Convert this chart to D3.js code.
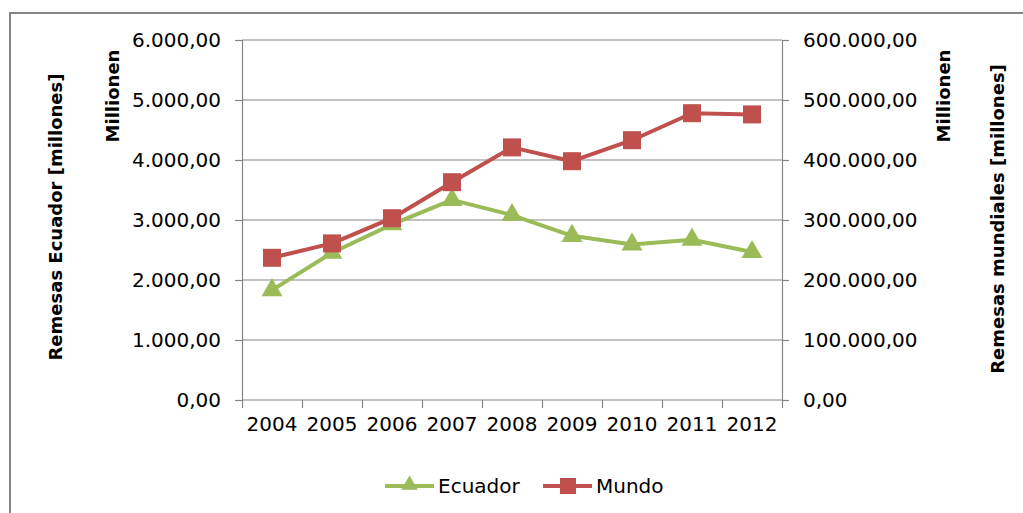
<!DOCTYPE html>
<html><head><meta charset="utf-8">
<script src="https://cdn.jsdelivr.net/npm/d3@7"></script>
<style>
body{margin:0;background:#fff;}
svg{display:block;font-family:"DejaVu Sans",sans-serif;}
</style></head>
<body>
<svg id="c" width="1023" height="513"></svg>
<script>
const years = ["2004","2005","2006","2007","2008","2009","2010","2011","2012"];
const ecuador = [1832, 2454, 2928, 3335, 3083, 2736, 2591, 2672, 2467];
const mundo = [237000, 261000, 303000, 363000, 421000, 398000, 433000, 478000, 476000];
const leftTicks = [0,1000,2000,3000,4000,5000,6000];
const rightTicks = [0,100000,200000,300000,400000,500000,600000];
const seriesNames = ["Ecuador","Mundo"];
const colors = {Ecuador:"#9BBB59", Mundo:"#C0504D"};

const svg = d3.select("#c");
const L = 242, R = 782, T = 40, B = 400;
const loc = d3.formatLocale({decimal:",", thousands:".", grouping:[3], currency:["",""]});
const fmt = loc.format(",.2f");
const gridCol = "#868686";
const fs = 20;

// border
svg.append("rect").attr("x",10).attr("y",13).attr("width",1030).attr("height",520)
  .attr("fill","none").attr("stroke","#868686").attr("stroke-width",2);

const x = d3.scaleBand().domain(years).range([L,R]);
const xi = d3.scaleLinear().domain([0,years.length]).range([L,R]);
const yL = d3.scaleLinear().domain([0,6000]).range([B,T]);
const yR = d3.scaleLinear().domain([0,600000]).range([B,T]);

// gridlines
svg.append("g").selectAll("line").data(leftTicks.slice(1)).join("line")
  .attr("x1",L).attr("x2",R).attr("y1",d=>yL(d)).attr("y2",d=>yL(d))
  .attr("stroke",gridCol).attr("stroke-width",1.2);

// left axis
const gl = svg.append("g").attr("transform",`translate(${L},0)`)
  .call(d3.axisLeft(yL).tickValues(leftTicks).tickFormat(fmt).tickSize(7).tickPadding(14));
// right axis
const gr = svg.append("g").attr("transform",`translate(${R},0)`)
  .call(d3.axisRight(yR).tickValues(rightTicks).tickFormat(fmt).tickSize(7).tickPadding(14));
// x axis ticks
const gx = svg.append("g").attr("transform",`translate(0,${B})`)
  .call(d3.axisBottom(xi).tickValues(d3.range(years.length+1)).tickFormat("").tickSize(8).tickSizeOuter(0));
const gxl = svg.append("g").attr("transform",`translate(0,${B})`)
  .call(d3.axisBottom(x).tickSize(0).tickPadding(17));
gxl.select(".domain").remove();

[gl,gr,gx].forEach(g=>{
  g.selectAll(".domain").attr("stroke",gridCol).attr("stroke-width",1.2);
  g.selectAll(".tick line").attr("stroke",gridCol).attr("stroke-width",1.2);
});
[gl,gr,gxl].forEach(g=>{
  g.selectAll("text").attr("font-family","DejaVu Sans").attr("font-size",fs).attr("fill","#000");
});
gx.select(".domain").attr("d",`M${L},0H${R}`);

// axis titles
function vtitle(txt,cx,cy){
  svg.append("text").attr("transform",`translate(${cx},${cy}) rotate(-90)`)
    .attr("text-anchor","middle").attr("dy","0.35em")
    .attr("font-weight","bold").attr("font-size",18).text(txt);
}
vtitle("Remesas Ecuador  [millones]",56,217);
vtitle("Millionen",113,96);
vtitle("Millionen",944,96);
vtitle("Remesas mundiales [millones]",998,219);

// lines
const lineL = d3.line().x((d,i)=>x(years[i])+x.bandwidth()/2).y(d=>yL(d));
const lineR = d3.line().x((d,i)=>x(years[i])+x.bandwidth()/2).y(d=>yR(d));
svg.append("path").datum(mundo).attr("d",lineR).attr("fill","none")
  .attr("stroke",colors.Mundo).attr("stroke-width",4).attr("stroke-linejoin","round");
svg.append("path").datum(ecuador).attr("d",lineL).attr("fill","none")
  .attr("stroke",colors.Ecuador).attr("stroke-width",4).attr("stroke-linejoin","round");

const tri = d3.symbol().type(d3.symbolTriangle).size(190);
svg.append("g").selectAll("path").data(ecuador).join("path")
  .attr("transform",(d,i)=>`translate(${x(years[i])+x.bandwidth()/2},${yL(d)})`)
  .attr("d",tri).attr("fill",colors.Ecuador);
svg.append("g").selectAll("rect").data(mundo).join("rect")
  .attr("x",(d,i)=>x(years[i])+x.bandwidth()/2-9).attr("y",d=>yR(d)-9)
  .attr("width",18).attr("height",18).attr("fill",colors.Mundo);

// legend
const leg = svg.append("g");
const legItems = [{n:seriesNames[0],x0:385},{n:seriesNames[1],x0:543}];
legItems.forEach(it=>{
  const g = leg.append("g").attr("transform",`translate(${it.x0},486)`);
  g.append("line").attr("x1",0).attr("x2",49).attr("y1",0).attr("y2",0)
    .attr("stroke",colors[it.n]).attr("stroke-width",4);
  if(it.n==="Ecuador"){
    g.append("path").attr("transform","translate(24.5,-1)").attr("d",d3.symbol().type(d3.symbolTriangle).size(120)).attr("fill",colors[it.n]);
  } else {
    g.append("rect").attr("x",17).attr("y",-8).attr("width",16).attr("height",16).attr("fill",colors[it.n]);
  }
  g.append("text").attr("x",53).attr("y",7).attr("font-size",fs).text(it.n);
});
</script>
</body></html>
